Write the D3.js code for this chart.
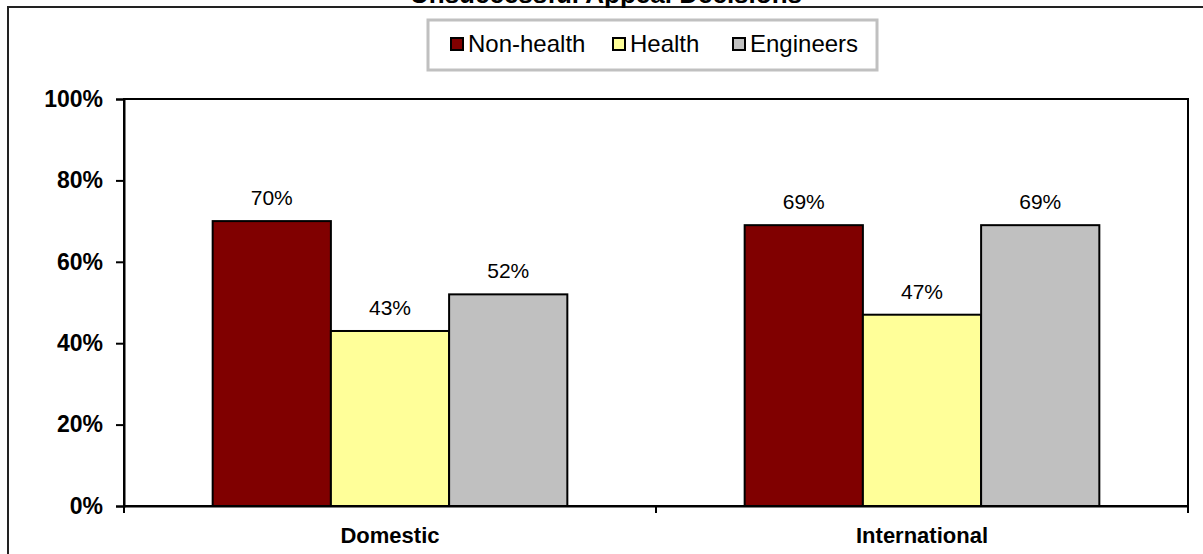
<!DOCTYPE html>
<html>
<head>
<meta charset="utf-8">
<script src="https://cdn.jsdelivr.net/npm/d3@7"></script>
<style>
  html, body { margin: 0; padding: 0; background: #fff; }
  svg { display: block; }
  text { font-family: "Liberation Sans", Arial, sans-serif; fill: #000; }
</style>
</head>
<body>
<svg id="chart" width="1203" height="554"></svg>
<script>
// Share of appeal decisions that were unsuccessful, by applicant group
const categories = ["Domestic", "International"];
const seriesNames = ["Non-health", "Health", "Engineers"];
const nonHealth = [0.70, 0.69];
const health = [0.43, 0.47];
const engineers = [0.52, 0.69];
const seriesColors = ["#800000", "#FFFF99", "#C0C0C0"];
const yTickValues = [0, 0.2, 0.4, 0.6, 0.8, 1.0];
const title = "Unsuccessful Appeal Decisions";

const seriesValues = [nonHealth, health, engineers];

const svg = d3.select("#chart");
const plot = { left: 124, right: 1188, top: 99, bottom: 506 };

// Outer chart frame (runs past the right and bottom edges)
svg.append("rect")
  .attr("x", 8).attr("y", 7)
  .attr("width", 1220).attr("height", 580)
  .attr("fill", "#fff")
  .attr("stroke", "#222").attr("stroke-width", 2);

// Title, sitting at the very top of the frame
svg.append("text")
  .attr("x", 606).attr("y", 3)
  .attr("text-anchor", "middle")
  .attr("font-size", 26).attr("font-weight", "bold")
  .text(title);

// Scales
const x0 = d3.scaleBand()
  .domain(categories)
  .range([plot.left, plot.right])
  .paddingInner(0).paddingOuter(0);

const x1 = d3.scaleBand()
  .domain(seriesNames)
  .range([0, x0.bandwidth()])
  .paddingInner(0)
  .paddingOuter(0.75);

const y = d3.scaleLinear().domain([0, 1]).range([plot.bottom, plot.top]);

// Plot area border
svg.append("rect")
  .attr("x", plot.left).attr("y", plot.top)
  .attr("width", plot.right - plot.left).attr("height", plot.bottom - plot.top)
  .attr("fill", "#fff")
  .attr("stroke", "#000").attr("stroke-width", 2);

// Bars
const rows = categories.map((c, i) => ({
  category: c,
  values: seriesNames.map((s, j) => ({ series: s, value: seriesValues[j][i], color: seriesColors[j] }))
}));

const groups = svg.append("g").selectAll("g")
  .data(rows)
  .join("g")
  .attr("transform", d => `translate(${x0(d.category)},0)`);

groups.selectAll("rect")
  .data(d => d.values)
  .join("rect")
  .attr("x", d => x1(d.series))
  .attr("y", d => y(d.value))
  .attr("width", x1.bandwidth())
  .attr("height", d => y(0) - y(d.value))
  .attr("fill", d => d.color)
  .attr("stroke", "#000").attr("stroke-width", 2);

// Value labels
groups.selectAll("text.value")
  .data(d => d.values)
  .join("text")
  .attr("class", "value")
  .attr("x", d => x1(d.series) + x1.bandwidth() / 2)
  .attr("y", d => y(d.value) - 16)
  .attr("text-anchor", "middle")
  .attr("font-size", 21)
  .text(d => d3.format(".0%")(d.value));

// Y axis
const yAxis = d3.axisLeft(y)
  .tickValues(yTickValues)
  .tickFormat(d3.format(".0%"))
  .tickSize(8)
  .tickPadding(13);

const gy = svg.append("g")
  .attr("transform", `translate(${plot.left},0)`)
  .call(yAxis);
gy.select(".domain").attr("stroke", "#000").attr("stroke-width", 2);
gy.selectAll(".tick line").attr("stroke", "#000").attr("stroke-width", 2);
gy.selectAll(".tick text")
  .attr("font-size", 23).attr("font-weight", "bold")
  .attr("font-family", "'Liberation Sans', Arial, sans-serif")
  .attr("fill", "#000");

// X axis: category labels centred under each group, ticks on the boundaries
const xAxis = d3.axisBottom(x0).tickSize(0).tickPadding(21);
const gx = svg.append("g")
  .attr("transform", `translate(0,${plot.bottom})`)
  .call(xAxis);
gx.select(".domain").attr("stroke", "#000").attr("stroke-width", 2);
gx.selectAll(".tick text")
  .attr("font-size", 22).attr("font-weight", "bold")
  .attr("font-family", "'Liberation Sans', Arial, sans-serif")
  .attr("fill", "#000");

const boundaries = categories.map(c => x0(c)).concat([x0(categories[categories.length - 1]) + x0.bandwidth()]);
svg.append("g").selectAll("line")
  .data(boundaries)
  .join("line")
  .attr("x1", d => d).attr("x2", d => d)
  .attr("y1", plot.bottom).attr("y2", plot.bottom + 7)
  .attr("stroke", "#000").attr("stroke-width", 2);

// Legend
const legend = svg.append("g");
legend.append("rect")
  .attr("x", 428).attr("y", 20)
  .attr("width", 449).attr("height", 50)
  .attr("fill", "#fff")
  .attr("stroke", "#c0c0c0").attr("stroke-width", 3);

const legendX = [451, 613, 733];
const items = legend.selectAll("g.item")
  .data(seriesNames)
  .join("g")
  .attr("class", "item")
  .attr("transform", (d, i) => `translate(${legendX[i]},0)`);

items.append("rect")
  .attr("x", 0).attr("y", 38)
  .attr("width", 12).attr("height", 12)
  .attr("fill", (d, i) => seriesColors[i])
  .attr("stroke", "#000").attr("stroke-width", 2);

items.append("text")
  .attr("x", 17).attr("y", 52)
  .attr("font-size", 24)
  .text(d => d);
</script>
</body>
</html>
